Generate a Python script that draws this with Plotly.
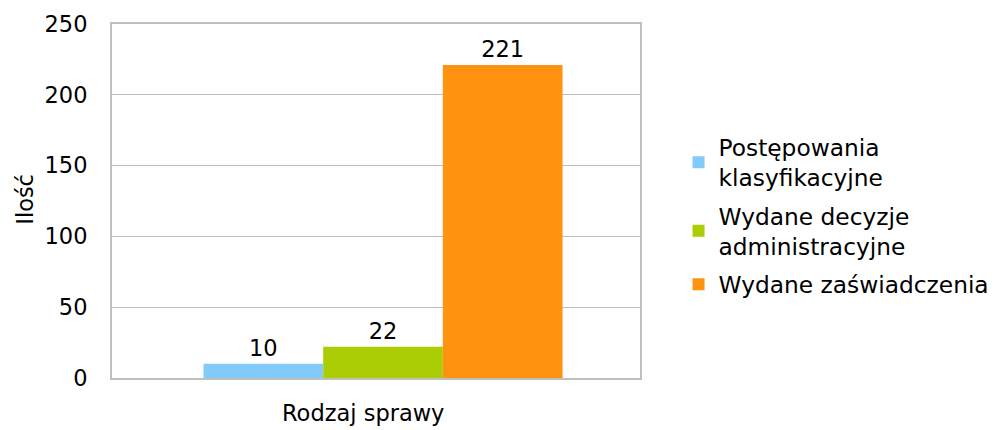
import plotly.graph_objects as go

categories = ["Rodzaj sprawy"]
series_names = ["Postępowania<br>klasyfikacyjne", "Wydane decyzje<br>administracyjne", "Wydane zaświadczenia"]
series_values = [[10], [22], [221]]
colors = ["#82CAFA", "#AACD06", "#FF930F"]
y_ticks = [0, 50, 100, 150, 200, 250]
y_title = "Ilość"

FONT = "DejaVu Sans"
FS = 22.5

fig = go.Figure()
for i, (name, vals, col) in enumerate(zip(series_names, series_values, colors)):
    fig.add_trace(go.Bar(
        x=categories, y=vals, name=name, legendgroup=f"g{i}",
        marker=dict(color=col, line=dict(width=0)),
        text=[str(v) for v in vals], textposition="outside",
        textfont=dict(family=FONT, size=FS, color="#000000"), cliponaxis=False,
    ))

fig.add_annotation(
    text=categories[0], xref="paper", yref="paper", x=0.4745, y=-0.1,
    xanchor="center", yanchor="middle", showarrow=False,
    font=dict(family=FONT, size=FS, color="#000000"),
)
fig.add_annotation(
    text=y_title, xref="paper", yref="paper", x=-0.165, y=0.506, textangle=-90,
    xanchor="center", yanchor="middle", showarrow=False,
    font=dict(family=FONT, size=FS, color="#000000"),
)

fig.update_layout(
    width=990, height=422,
    margin=dict(l=104, r=358, t=16, b=52, autoexpand=False),
    paper_bgcolor="white", plot_bgcolor="white",
    barmode="group", bargap=0.32, bargroupgap=0,
    font=dict(family=FONT, size=FS, color="#000000"),
    showlegend=True,
    legend=dict(x=1.073, y=0.458, xanchor="left", yanchor="middle",
                font=dict(family=FONT, size=23.3), tracegroupgap=5, itemwidth=30),
)
fig.update_yaxes(
    range=[0, 250], tickvals=y_ticks, showgrid=True, gridcolor="#BFBFBF", gridwidth=1,
    showline=True, linecolor="#BFBFBF", linewidth=2, mirror=True, zeroline=False,
    ticks="", ticklabelstandoff=18, automargin=False,
)
fig.update_xaxes(
    range=[-0.5133, 0.4867],
    showline=True, linecolor="#BFBFBF", linewidth=2, mirror=True,
    ticks="", showticklabels=False, automargin=False,
)
fig.write_html("out.html")
